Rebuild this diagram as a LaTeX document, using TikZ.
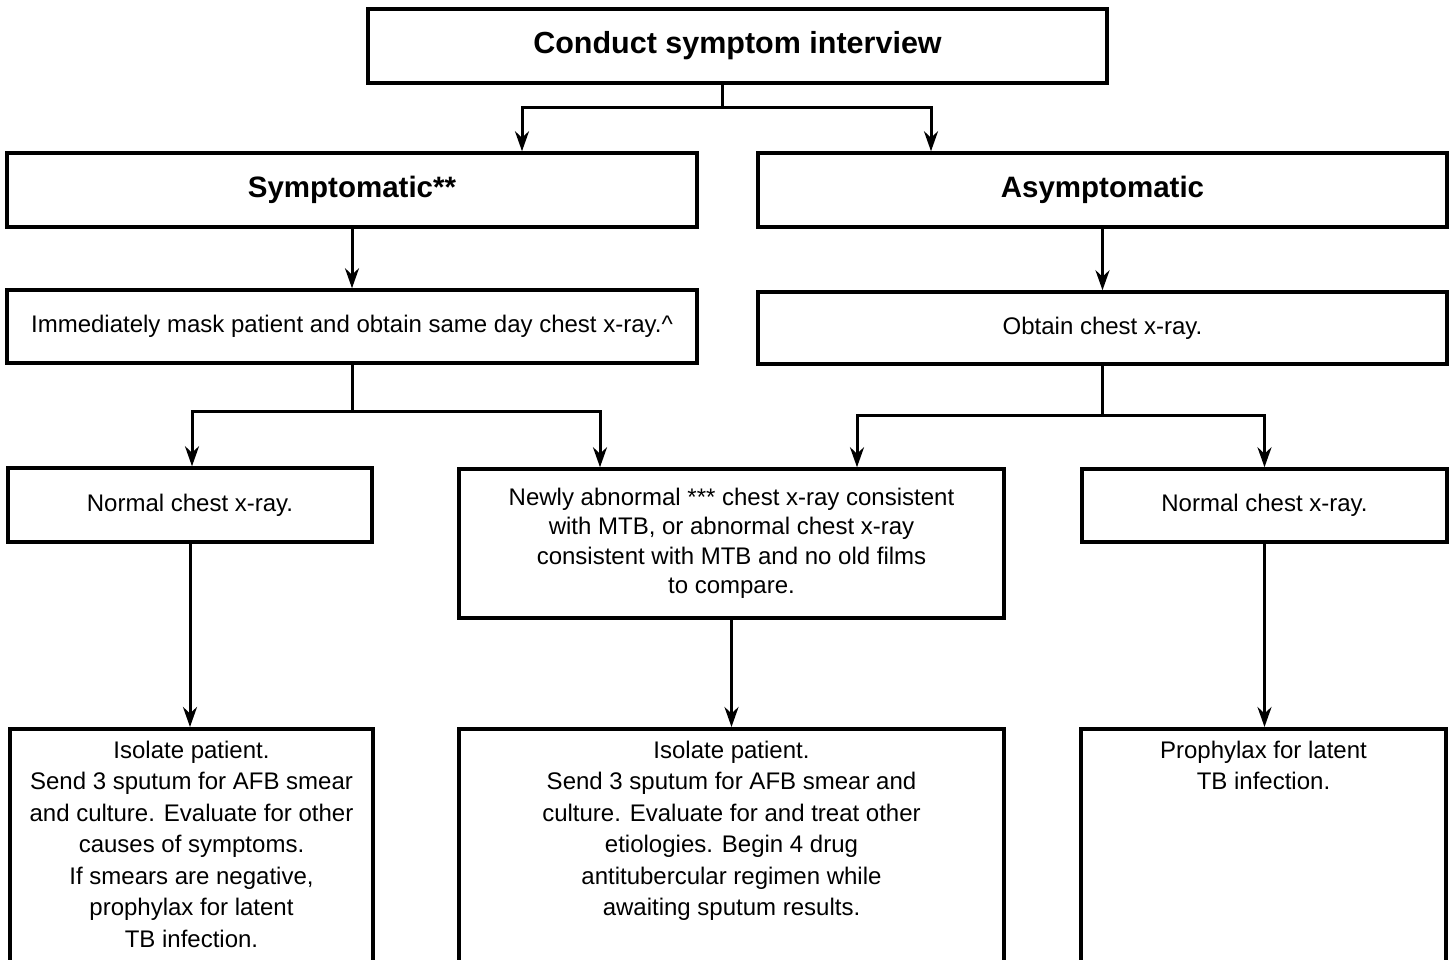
\documentclass[tikz,border=0pt]{standalone}
\usepackage{fontspec}
\setmainfont{Liberation Sans}
\usetikzlibrary{arrows.meta, positioning}
\tikzset{
  stepbox/.style={draw, line width=3.5pt, align=center, inner sep=0pt, font=\fontsize{24}{31.5}\selectfont},
  headbox/.style={stepbox, font=\fontsize{29.5}{34}\selectfont\bfseries},
  openbox/.style={stepbox, anchor=north, inner ysep=12pt, text depth=260pt}
}
\begin{document}
\begin{tikzpicture}[x=1pt, y=-1pt, line width=3pt, >={Stealth[length=20pt, width=14pt]}]
\useasboundingbox (0,0) rectangle (1452,960);
\clip (0,0) rectangle (1452,960);
\node[headbox, font=\fontsize{30.5}{36}\selectfont\bfseries, minimum width=739pt, minimum height=74pt] (interview) at (737.5,46) {Conduct symptom interview};
\node[headbox, minimum width=690pt, minimum height=74pt] (symp) at (352,190) {Symptomatic**};
\node[headbox, minimum width=689pt, minimum height=74pt] (asymp) at (1102.5,190) {Asymptomatic};
\node[stepbox, minimum width=690pt, minimum height=73pt] (mask) at (352,326.5) {Immediately mask patient and obtain same day chest x-ray.\textasciicircum};
\node[stepbox, minimum width=689pt, minimum height=72pt] (xray) at (1102.5,328) {Obtain chest x-ray.};
\node[stepbox, minimum width=364pt, minimum height=74pt] (normL) at (190,505) {Normal chest x-ray.};
\node[stepbox, font=\fontsize{24}{29.5}\selectfont, minimum width=545pt, minimum height=149pt] (newab) at (731.5,543.5) {Newly abnormal *** chest x-ray consistent\\with MTB, or abnormal chest x-ray\\consistent with MTB and no old films\\to compare.};
\node[stepbox, minimum width=365pt, minimum height=73pt] (normR) at (1264.5,505.5) {Normal chest x-ray.};
\node[openbox, minimum width=363pt] (isoL) at (191.5,727) {Isolate patient.\\Send 3 sputum for AFB smear\\and culture. Evaluate for other\\causes of symptoms.\\If smears are negative,\\prophylax for latent\\TB infection.};
\node[openbox, minimum width=545pt] (isoM) at (731.5,727) {Isolate patient.\\Send 3 sputum for AFB smear and\\culture. Evaluate for and treat other\\etiologies. Begin 4 drug\\antitubercular regimen while\\awaiting sputum results.};
\node[openbox, minimum width=365pt] (prophR) at (1263.5,727) {Prophylax for latent\\TB infection.};
\coordinate (split1) at (722,108);
\coordinate (split2) at (352,411);
\coordinate (split3) at (1102.5,415);
\draw ([xshift=-15.5pt]interview.south) -- (split1);
\draw[->] (split1) -| ([xshift=170pt]symp.north);
\draw[->] (split1) -| ([xshift=-171.5pt]asymp.north);
\draw[->] (symp) -- (mask);
\draw[->] (asymp) -- (xray);
\draw (mask.south) -- (split2);
\draw[->] (split2) -| ([xshift=2pt]normL.north);
\draw[->] (split2) -| ([xshift=-131.5pt]newab.north);
\draw (xray.south) -- (split3);
\draw[->] (split3) -| ([xshift=125.5pt]newab.north);
\draw[->] (split3) -| (normR.north);
\draw[->] (normL.south) -- (normL.south |- isoL.north);
\draw[->] (newab) -- (isoM);
\draw[->] (normR.south) -- (normR.south |- prophR.north);
\end{tikzpicture}
\end{document}
